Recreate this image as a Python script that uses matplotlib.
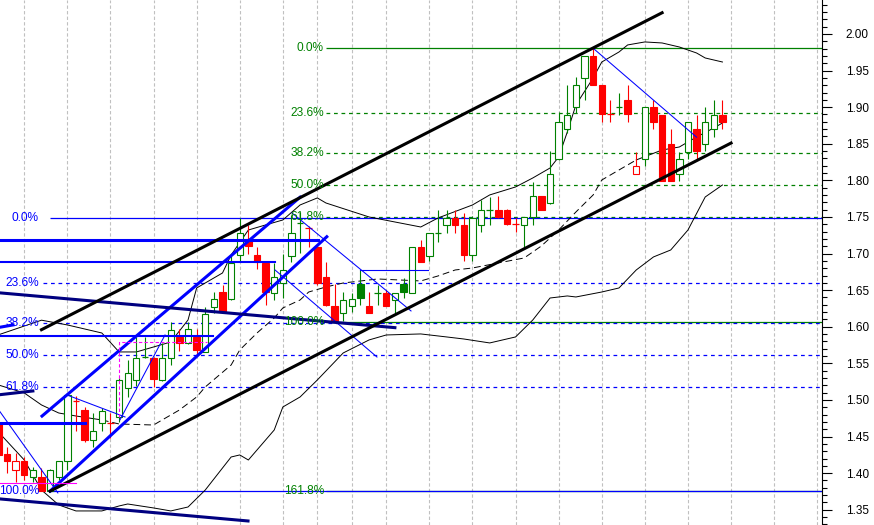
import matplotlib
matplotlib.use("Agg")
import matplotlib.pyplot as plt
from matplotlib.patches import Rectangle
from matplotlib.ticker import MultipleLocator, FormatStrFormatter

plt.rcParams["font.family"] = ["Liberation Sans", "DejaVu Sans"]

# ── Daily OHLC (bar index 0..84) ─────────────────────────────────────────────
OPEN = [1.469, 1.426, 1.405, 1.417, 1.395, 1.395, 1.376, 1.395, 1.417, 1.500,
        1.486, 1.446, 1.468, 1.4695, 1.477, 1.516, 1.527, 1.5585, 1.557, 1.527,
        1.557, 1.5865, 1.5775, 1.5865, 1.566, 1.6275, 1.648, 1.6376, 1.698, 1.7196,
        1.698, 1.6876, 1.6466, 1.660, 1.697, 1.7415, 1.736, 1.7094, 1.6685, 1.6284,
        1.6184, 1.629, 1.658, 1.6284, 1.6465, 1.6466, 1.6366, 1.6581, 1.6466, 1.7086,
        1.6971, 1.7285, 1.7391, 1.7482, 1.7391, 1.6981, 1.7391, 1.7595, 1.7596, 1.7596,
        1.7405, 1.7391, 1.7496, 1.7787, 1.7687, 1.8288, 1.8698, 1.9000, 1.9395, 1.9699,
        1.9303, 1.8910, 1.9005, 1.9098, 1.8083, 1.8288, 1.8999, 1.8893, 1.8497, 1.8083,
        1.8392, 1.8698, 1.8497, 1.8698, 1.8893]
HIGH = [1.473, 1.436, 1.427, 1.4225, 1.409, 1.407, 1.406, 1.417, 1.509, 1.505,
        1.490, 1.482, 1.489, 1.482, 1.530, 1.5546, 1.5865, 1.5865, 1.559, 1.578,
        1.607, 1.597, 1.607, 1.597, 1.6275, 1.648, 1.657, 1.700, 1.748, 1.739,
        1.7094, 1.6876, 1.6876, 1.700, 1.7527, 1.7573, 1.737, 1.712, 1.689, 1.6585,
        1.6475, 1.6466, 1.6776, 1.6475, 1.6571, 1.650, 1.6466, 1.6663, 1.7086, 1.7186,
        1.7277, 1.7596, 1.7596, 1.7596, 1.755, 1.7514, 1.7732, 1.7777, 1.7787, 1.7610,
        1.7482, 1.7500, 1.7982, 1.7787, 1.8402, 1.8934, 1.9303, 1.9413, 1.9699, 1.9805,
        1.9303, 1.9098, 1.9194, 1.9303, 1.8392, 1.8999, 1.9098, 1.8893, 1.8698, 1.8392,
        1.8802, 1.8893, 1.8999, 1.9098, 1.9098]
LOW = [1.418, 1.400, 1.388, 1.391, 1.388, 1.376, 1.3752, 1.391, 1.404, 1.457,
       1.443, 1.436, 1.457, 1.448, 1.470, 1.5045, 1.519, 1.557, 1.518, 1.526,
       1.548, 1.567, 1.577, 1.5615, 1.565, 1.619, 1.6206, 1.637, 1.689, 1.700,
       1.6786, 1.630, 1.637, 1.639, 1.6885, 1.7004, 1.709, 1.657, 1.629, 1.607,
       1.608, 1.6206, 1.6298, 1.6184, 1.6298, 1.6284, 1.6184, 1.6389, 1.6466, 1.689,
       1.6899, 1.7163, 1.7281, 1.7281, 1.6899, 1.6899, 1.7295, 1.7391, 1.7482, 1.7391,
       1.7295, 1.7077, 1.7391, 1.7596, 1.7678, 1.8279, 1.8650, 1.8921, 1.9098, 1.9303,
       1.8802, 1.8802, 1.8893, 1.8802, 1.8083, 1.8197, 1.8698, 1.7996, 1.7990, 1.7996,
       1.8288, 1.8292, 1.8402, 1.8593, 1.8698]
CLOSE = [1.425, 1.417, 1.416, 1.397, 1.405, 1.376, 1.405, 1.417, 1.507, 1.4985,
         1.446, 1.457, 1.485, 1.468, 1.527, 1.5365, 1.557, 1.559, 1.528, 1.557,
         1.596, 1.578, 1.597, 1.568, 1.6175, 1.6376, 1.6206, 1.687, 1.728, 1.7104,
         1.689, 1.648, 1.6676, 1.6776, 1.7277, 1.7425, 1.734, 1.6594, 1.6291, 1.608,
         1.6366, 1.638, 1.639, 1.6184, 1.6470, 1.6284, 1.6466, 1.6480, 1.7086, 1.689,
         1.7277, 1.7290, 1.7482, 1.7391, 1.6981, 1.7482, 1.7589, 1.7600, 1.7496, 1.7398,
         1.7390, 1.7496, 1.7787, 1.7596, 1.8083, 1.8794, 1.8893, 1.9303, 1.9699, 1.9303,
         1.8907, 1.8905, 1.9010, 1.8903, 1.8197, 1.8999, 1.8802, 1.7998, 1.7990, 1.8288,
         1.8802, 1.8406, 1.8798, 1.8893, 1.8802]
PREV_CLOSE = 1.470          # close of the bar before the first one shown

# week separators (bar index)
WEEK_BARS = [3, 8, 13, 18, 23, 28, 33, 37, 41, 45, 50, 55, 60, 65, 70, 75, 80, 85, 90, 95]

# ── Bollinger bands / moving average, read at selected bars ───────────────────
UB_BAR = [0, 5, 8, 12, 14, 16, 20, 22, 23, 26, 27, 29, 31, 33, 35, 37, 38, 43, 49, 51,
          55, 57, 60, 62, 64, 65, 66, 67, 69, 70, 72, 73, 75, 77, 79, 81, 82, 84]
UB_VAL = [1.589, 1.609, 1.6025, 1.5915, 1.5656, 1.5656, 1.5792, 1.6093, 1.653, 1.6735,
          1.6981, 1.7322, 1.7391, 1.7459, 1.7664, 1.776, 1.7691, 1.75, 1.7363, 1.7486,
          1.7664, 1.7801, 1.791, 1.8033, 1.8169, 1.832, 1.8661, 1.903, 1.9399, 1.9617,
          1.9754, 1.985, 1.9891, 1.9877, 1.9822, 1.974, 1.9672, 1.9617]
LB_BAR = [0, 3, 5, 7, 9, 12, 14, 15, 18, 20, 22, 24, 27, 28, 29, 32, 33, 35, 37, 40,
          43, 45, 49, 52, 54, 57, 60, 62, 64, 66, 67, 70, 72, 74, 76, 78, 80, 82, 84]
LB_VAL = [1.4563, 1.418, 1.377, 1.3566, 1.3484, 1.3484, 1.3552, 1.3579, 1.3525, 1.3484,
          1.3538, 1.377, 1.4221, 1.4249, 1.418, 1.459, 1.4904, 1.5041, 1.5273, 1.5642,
          1.582, 1.5888, 1.5902, 1.5861, 1.5833, 1.5779, 1.5861, 1.6093, 1.6393, 1.6421,
          1.6407, 1.6475, 1.653, 1.6776, 1.6954, 1.7049, 1.7322, 1.7773, 1.7937]
MID_BAR = [0, 3, 5, 7, 9, 12, 14, 18, 19, 21, 23, 24, 27, 28, 30, 32, 33, 35, 36, 38,
           40, 44, 49, 51, 53, 55, 58, 61, 63, 65, 67, 69, 70, 72, 74, 77, 79, 81, 83, 84]
MID_VAL = [1.5205, 1.5096, 1.4932, 1.4822, 1.4781, 1.4727, 1.4672, 1.4658, 1.4727, 1.4863,
           1.5041, 1.5178, 1.5478, 1.5683, 1.5915, 1.612, 1.6257, 1.6366, 1.6475, 1.6544,
           1.6598, 1.6653, 1.6626, 1.6694, 1.6776, 1.6803, 1.6872, 1.694, 1.7104, 1.7322,
           1.7568, 1.7801, 1.8005, 1.8142, 1.8279, 1.8415, 1.8456, 1.8593, 1.8716, 1.8784]

# ── Fibonacci retracements ────────────────────────────────────────────────────
FIB_RATIOS = [0.0, 0.236, 0.382, 0.5, 0.618, 1.0]
BLUE_FIB_HI, BLUE_FIB_LO = 1.748, 1.3755
GREEN_FIB_RATIOS = [0.0, 0.236, 0.382, 0.5, 0.618, 1.0, 1.618]
GREEN_FIB_HI, GREEN_FIB_LO = 1.9805, 1.607

# ── Drawn trend lines: (bar0, bar1, price0, price1) ──────────────────────────
BLACK_CHANNEL = [(5.0, 77.0, 1.596, 2.029), (6.0, 85.0, 1.3755, 1.851)]
BLUE_CHANNEL = [(5.06, 35.0, 1.478, 1.777), (6.0, 38.1, 1.3755, 1.723)]
NAVY_LINES = [(0.0, 28.96, 1.365, 1.3347), (0.0, 46.0, 1.6465, 1.5988),
              (0.0, 4.0, 1.507, 1.5123)]
THIN_BLUE = [(0.0, 6.9, 1.487, 1.373), (7.96, 14.69, 1.5068, 1.4768),
             (14.1, 19.33, 1.4727, 1.5888), (34.06, 47.87, 1.7555, 1.6216),
             (32.09, 43.92, 1.6776, 1.5587), (69.0, 81.0, 1.9805, 1.859)]
# horizontal blue levels: (price, bar0, bar1, width)
BLUE_LEVELS = [(1.7186, 0.0, 37.08, 2.2), (1.6885, 0.0, 32.09, 1.5),
               (1.5874, 0.0, 24.9, 1.5), (1.4686, 0.0, 10.05, 2.2),
               (1.6776, 41.95, 49.84, 0.8)]
MAGENTA_LEVEL = (1.3862, 0.0, 9.0)
MAGENTA_BOX = (14.03, 24.16, 1.4772, 1.5797)

GREEN = "#008000"
RED = "#FF0000"
BLUE = "#0000FF"
NAVY = "#000080"

# ── Figure ────────────────────────────────────────────────────────────────────
fig = plt.figure(figsize=(8.74, 5.25), dpi=100)
ax = fig.add_axes([0, 0, 822 / 874, 1])
X_LEFT, X_RIGHT = 0.186, 95.55
ax.set_xlim(X_LEFT, X_RIGHT)
ax.set_ylim(1.3292, 2.0464)

for s in ("left", "top", "bottom"):
    ax.spines[s].set_visible(False)
ax.spines["right"].set_linewidth(0.8)
ax.set_xticks([])
ax.yaxis.tick_right()
ax.yaxis.set_major_locator(MultipleLocator(0.05))
ax.yaxis.set_minor_locator(MultipleLocator(0.01))
ax.yaxis.set_major_formatter(FormatStrFormatter("%.2f"))
ax.tick_params(axis="y", which="major", length=7, width=0.8, labelsize=8.5, pad=10)
ax.tick_params(axis="y", which="minor", length=3.5, width=0.8)

# week grid
ax.vlines(WEEK_BARS, 1.3292, 2.0464, colors="#C0C0C0", lw=0.8,
          linestyles=(0, (3, 2)), zorder=0)

# fib retracements
def fib_set(hi, lo, ratios, color, x0_solid, x0_dash, label_x):
    for r in ratios:
        lvl = hi - r * (hi - lo)
        solid = r in (0.0, 1.0, 1.618)
        ax.hlines(lvl, x0_solid if solid else x0_dash, X_RIGHT, colors=color, lw=0.9,
                  linestyles="-" if solid else (0, (3, 3)), zorder=1)
        ax.text(label_x, lvl, f"{r * 100:.1f}%", color=color, fontsize=8.6,
                ha="right", va="center", zorder=6)

fib_set(GREEN_FIB_HI, GREEN_FIB_LO, GREEN_FIB_RATIOS, GREEN, 38.0, 38.0, 37.77)
fib_set(BLUE_FIB_HI, BLUE_FIB_LO, FIB_RATIOS, BLUE, 5.99, 5.17, 4.71)

# bands and average
ax.plot(UB_BAR, UB_VAL, color="black", lw=0.7, zorder=2)
ax.plot(LB_BAR, LB_VAL, color="black", lw=0.7, zorder=2)
solid_l = [i for i, b in enumerate(MID_BAR) if b <= 12]
dashed = [i for i, b in enumerate(MID_BAR) if 12 <= b <= 74]
solid_r = [i for i, b in enumerate(MID_BAR) if b >= 74]
for idx, ls in ((solid_l, "-"), (dashed, (0, (7, 4))), (solid_r, "-")):
    ax.plot([MID_BAR[i] for i in idx], [MID_VAL[i] for i in idx],
            color="black", lw=0.7, ls=ls, zorder=2)

# candles
prev = PREV_CLOSE
for i, (o, h, l, c) in enumerate(zip(OPEN, HIGH, LOW, CLOSE)):
    col = GREEN if c >= prev else RED
    prev = c
    ax.vlines(i, l, h, colors=col, lw=0.8, zorder=3)
    if abs(c - o) < 0.0025:
        ax.hlines((o + c) / 2, i - 0.38, i + 0.38, colors=col, lw=0.9, zorder=4)
        continue
    hollow = c > o
    ax.add_patch(Rectangle((i - 0.37, min(o, c)), 0.74, abs(c - o),
                           facecolor="white" if hollow else col,
                           edgecolor=col, lw=0.8, zorder=4))

# drawn lines
for x0, x1, y0, y1 in THIN_BLUE:
    ax.plot([x0, x1], [y0, y1], color=BLUE, lw=0.75, zorder=5)
for y, x0, x1, w in BLUE_LEVELS:
    ax.plot([x0, x1], [y, y], color=BLUE, lw=w, zorder=5)
ax.plot([0.0, 1.7], [1.599, 1.6025], color=BLUE, lw=2.2, zorder=5)
for x0, x1, y0, y1 in BLUE_CHANNEL:
    ax.plot([x0, x1], [y0, y1], color=BLUE, lw=2.2, zorder=5)
for x0, x1, y0, y1 in NAVY_LINES:
    ax.plot([x0, x1], [y0, y1], color=NAVY, lw=2.2, zorder=5)
for x0, x1, y0, y1 in BLACK_CHANNEL:
    ax.plot([x0, x1], [y0, y1], color="black", lw=2.2, zorder=5)

my, mx0, mx1 = MAGENTA_LEVEL
ax.plot([mx0, mx1], [my, my], color="#FF00FF", lw=0.8, zorder=5)
bx0, bx1, by0, by1 = MAGENTA_BOX
ax.plot([bx0, bx0, bx1], [by0, by1, by1], color="#FF00FF", lw=0.8,
        ls=(0, (3, 2)), zorder=5)

fig.savefig("out.png", dpi=100)
